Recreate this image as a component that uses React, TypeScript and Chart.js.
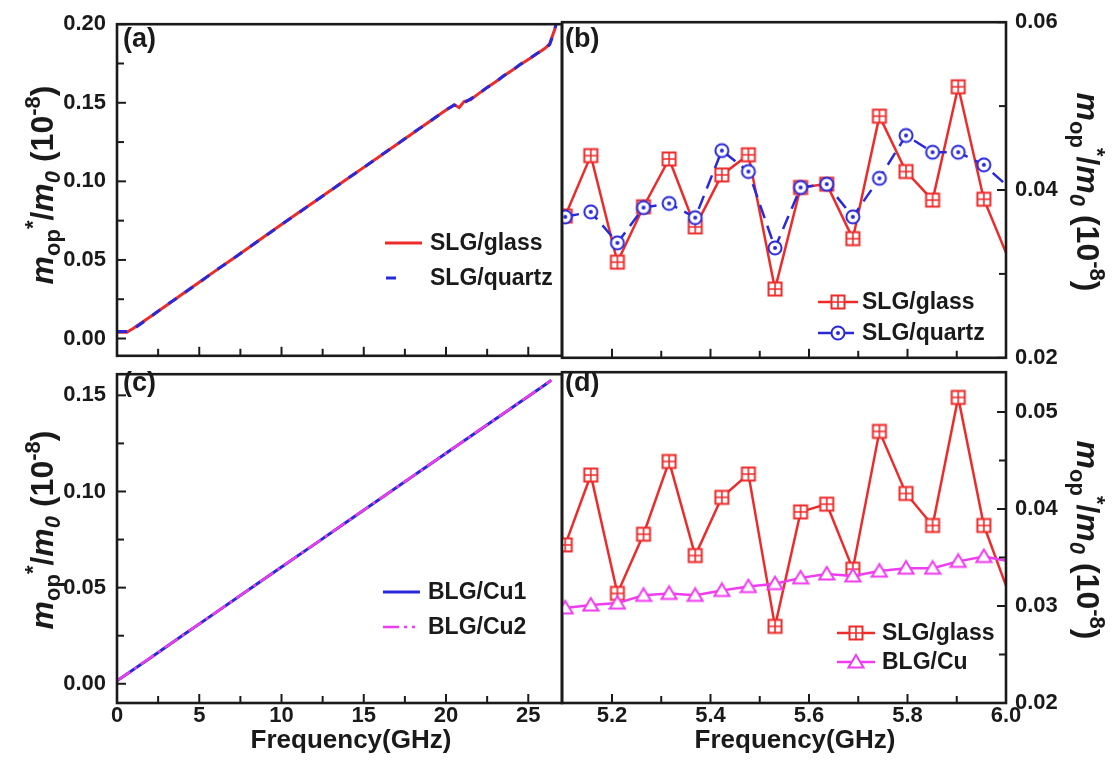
import React, { useEffect, useRef } from "react";
import { Chart, registerables } from "chart.js";
Chart.register(...registerables);

const FONT = "'Liberation Sans', Arial, Helvetica, sans-serif";
const RED = "#ee2b2b";
const BLUE = "#2828dc";
const MAGENTA = "#f03cf0";
const INK = "#1a1a1a";

// ---------- Panel (a): 0-27 GHz, SLG ----------
const freqA = [0, 0.6, 1.0, 2, 3, 4, 5, 6, 7, 8, 9, 10, 11, 12, 13, 14, 15, 16, 17, 18, 19, 20, 20.5, 20.8, 21.1, 21.5, 22, 22.5, 23, 23.5, 24, 24.5, 25, 25.5, 26, 26.3, 26.6, 26.8];
const glassA = [0.004, 0.004, 0.0065, 0.0137, 0.021, 0.0285, 0.0358, 0.0432, 0.0505, 0.0578, 0.0652, 0.0725, 0.0798, 0.087, 0.0943, 0.1016, 0.1089, 0.1162, 0.1235, 0.1308, 0.1381, 0.1454, 0.1488, 0.147, 0.1508, 0.152, 0.156, 0.1597, 0.1632, 0.167, 0.1705, 0.1742, 0.1776, 0.181, 0.1845, 0.1875, 0.1965, 0.205];
const quartzA = [0.0045, 0.0045, 0.006, 0.0135, 0.0212, 0.0283, 0.0357, 0.0433, 0.0503, 0.0579, 0.065, 0.0726, 0.0797, 0.0871, 0.0942, 0.1017, 0.1088, 0.1163, 0.1234, 0.1309, 0.138, 0.1455, 0.1485, 0.148, 0.15, 0.1525, 0.1558, 0.1598, 0.163, 0.1672, 0.1703, 0.1744, 0.1775, 0.1812, 0.1842, 0.187, 0.196, 0.205];

// ---------- Panel (c): 0-27 GHz, BLG ----------
const freqC = [0, 2, 4, 6, 8, 10, 12, 14, 16, 18, 20, 22, 24, 26, 26.4];
const cu1C = [0.0015, 0.0133, 0.0252, 0.037, 0.0489, 0.0607, 0.0725, 0.0844, 0.0962, 0.108, 0.1199, 0.1317, 0.1436, 0.1554, 0.1578];
const cu2C = [0.0015, 0.0134, 0.0252, 0.0371, 0.0489, 0.0608, 0.0726, 0.0844, 0.0963, 0.1081, 0.1199, 0.1318, 0.1436, 0.1555, 0.1578];

// ---------- Panels (b), (d): 5.1-6.0 GHz ----------
const freqHi = [5.105, 5.157, 5.211, 5.264, 5.316, 5.369, 5.423, 5.477, 5.531, 5.583, 5.636, 5.689, 5.743, 5.797, 5.851, 5.903, 5.955, 6.008];
const glassB = [0.0369, 0.0441, 0.0314, 0.038, 0.0437, 0.0356, 0.0418, 0.0442, 0.0282, 0.0403, 0.0407, 0.0342, 0.0488, 0.0422, 0.0388, 0.0523, 0.0389, 0.0314];
const quartzB = [0.0368, 0.0374, 0.0337, 0.0379, 0.0384, 0.0367, 0.0447, 0.0422, 0.0331, 0.0403, 0.0407, 0.0368, 0.0414, 0.0465, 0.0445, 0.0445, 0.043, 0.0402];
const glassD = [0.0363, 0.0435, 0.0313, 0.0374, 0.0449, 0.0352, 0.0412, 0.0436, 0.0279, 0.0397, 0.0405, 0.0338, 0.048, 0.0416, 0.0383, 0.0515, 0.0383, 0.031];
const cuD = [0.0298, 0.0301, 0.0303, 0.0311, 0.0313, 0.0311, 0.0316, 0.032, 0.0323, 0.0329, 0.0333, 0.0331, 0.0336, 0.0339, 0.0339, 0.0346, 0.0351, 0.0346];

// ---------- ticks ----------
const xTicksLow = [0, 5, 10, 15, 20, 25];
const xMinorLow = [2.5, 7.5, 12.5, 17.5, 22.5];
const xTicksHi = [5.2, 5.4, 5.6, 5.8, 6.0];
const xMinorHi = [5.3, 5.5, 5.7, 5.9];
const yTicksA = [0, 0.05, 0.1, 0.15, 0.2];
const yMinorA = [0.025, 0.075, 0.125, 0.175];
const yTicksC = [0, 0.05, 0.1, 0.15];
const yMinorC = [0.025, 0.075, 0.125];
const yTicksB = [0.02, 0.04, 0.06];
const yMinorB = [0.03, 0.05];
const yTicksD = [0.02, 0.03, 0.04, 0.05];
const yMinorD = [0.025, 0.035, 0.045];

type Seg = { t: string; s: number; it?: boolean; dy?: number };
const Y_TITLE: Seg[] = [
  { t: "m", s: 32, it: true },
  { t: "op", s: 22, dy: 7 },
  { t: "*", s: 22, dy: -13 },
  { t: "/", s: 32 },
  { t: "m", s: 32, it: true },
  { t: "0", s: 22, it: true, dy: 7 },
  { t: " (10", s: 32 },
  { t: "-8", s: 22, dy: -13 },
  { t: ")", s: 32 },
];
const X_TITLE = "Frequency(GHz)";

function makeMarker(kind: string, color: string): HTMLCanvasElement {
  const size = 18;
  const c = document.createElement("canvas");
  c.width = size;
  c.height = size;
  const g = c.getContext("2d")!;
  const m = size / 2;
  g.strokeStyle = color;
  g.fillStyle = "#ffffff";
  g.lineWidth = 2;
  if (kind === "square") {
    const h = 6.5;
    g.fillRect(m - h, m - h, 2 * h, 2 * h);
    g.strokeRect(m - h, m - h, 2 * h, 2 * h);
    g.lineWidth = 1.6;
    g.beginPath();
    g.moveTo(m, m - h);
    g.lineTo(m, m + h);
    g.moveTo(m - h, m);
    g.lineTo(m + h, m);
    g.stroke();
  } else if (kind === "circle") {
    g.beginPath();
    g.arc(m, m, 6.5, 0, Math.PI * 2);
    g.fill();
    g.stroke();
    g.fillStyle = color;
    g.beginPath();
    g.arc(m, m, 2, 0, Math.PI * 2);
    g.fill();
  } else {
    g.beginPath();
    g.moveTo(m, m - 7);
    g.lineTo(m + 7.5, m + 5.5);
    g.lineTo(m - 7.5, m + 5.5);
    g.closePath();
    g.fill();
    g.stroke();
  }
  return c;
}

const pts = (xs: number[], ys: number[]) => xs.map((x, i) => ({ x, y: ys[i] }));

type LegendItem = { ds: number; x: number; y: number; len: number; tx: number };
type Panel = {
  ox: number; oy: number; w: number; h: number;
  padL: number; padT: number; padR: number;
  yWidth: number; xHeight: number;
  xMin: number; xMax: number; yMin: number; yMax: number;
  xTicks: number[]; xMinor: number[]; yTicks: number[]; yMinor: number[];
  ySide: "left" | "right"; showX: boolean; xDec: number;
  label: string; labelX: number; labelY: number;
  yTitleX: number; yTitleY: number; yRot: number;
  xTitleX?: number; xTitleY?: number;
  legend: LegendItem[];
  datasets: () => any[];
};

function decor(p: Panel) {
  return {
    id: "decor",
    afterDraw(chart: any) {
      const ctx: CanvasRenderingContext2D = chart.ctx;
      const a = chart.chartArea;
      const xs = chart.scales.x;
      const ys = chart.scales.y;
      ctx.save();
      ctx.strokeStyle = INK;
      ctx.setLineDash([]);
      ctx.lineWidth = 2;
      const xt = (v: number, len: number) => {
        const px = xs.getPixelForValue(v);
        ctx.beginPath();
        ctx.moveTo(px, a.bottom);
        ctx.lineTo(px, a.bottom - len);
        ctx.stroke();
      };
      p.xTicks.forEach((v) => xt(v, 9));
      p.xMinor.forEach((v) => xt(v, 7));
      const left = p.ySide === "left";
      const yt = (v: number, len: number) => {
        const py = ys.getPixelForValue(v);
        const b = left ? a.left : a.right;
        ctx.beginPath();
        ctx.moveTo(b, py);
        ctx.lineTo(b + (left ? len : -len), py);
        ctx.stroke();
      };
      p.yTicks.forEach((v) => yt(v, 9));
      p.yMinor.forEach((v) => yt(v, 7));
      ctx.lineWidth = 2.6;
      ctx.strokeRect(a.left, a.top, a.right - a.left, a.bottom - a.top);

      // legend
      p.legend.forEach((it) => {
        const ds = chart.data.datasets[it.ds];
        const x0 = it.x - p.ox;
        const y0 = it.y - p.oy;
        ctx.save();
        ctx.strokeStyle = ds.borderColor;
        ctx.lineWidth = ds.borderWidth;
        ctx.setLineDash(ds.borderDash || []);
        ctx.beginPath();
        ctx.moveTo(x0, y0);
        ctx.lineTo(x0 + it.len, y0);
        ctx.stroke();
        ctx.restore();
        const ps = ds.pointStyle;
        if (ps && typeof ps !== "string" && ps.width) {
          ctx.drawImage(ps, x0 + it.len / 2 - ps.width / 2, y0 - ps.height / 2);
        }
        ctx.fillStyle = INK;
        ctx.font = `bold 23px ${FONT}`;
        ctx.textAlign = "left";
        ctx.textBaseline = "middle";
        ctx.fillText(ds.label, it.tx - p.ox, y0 + 1);
      });

      // panel label
      ctx.fillStyle = INK;
      ctx.font = `bold 27px ${FONT}`;
      ctx.textAlign = "left";
      ctx.textBaseline = "middle";
      ctx.fillText(p.label, p.labelX - p.ox, p.labelY - p.oy);

      // x title
      if (p.xTitleX !== undefined) {
        ctx.font = `bold 26px ${FONT}`;
        ctx.textAlign = "center";
        ctx.fillText(X_TITLE, p.xTitleX - p.ox, (p.xTitleY as number) - p.oy);
      }

      // y title (rich)
      ctx.save();
      ctx.translate(p.yTitleX - p.ox, p.yTitleY - p.oy);
      ctx.rotate(p.yRot);
      ctx.textAlign = "left";
      ctx.textBaseline = "alphabetic";
      const fontOf = (s: Seg) => `${s.it ? "italic " : ""}bold ${s.s}px ${FONT}`;
      let total = 0;
      const widths = Y_TITLE.map((s) => {
        ctx.font = fontOf(s);
        const w = ctx.measureText(s.t).width;
        total += w;
        return w;
      });
      let cx = -total / 2;
      Y_TITLE.forEach((s, i) => {
        ctx.font = fontOf(s);
        ctx.fillText(s.t, cx, 11 + (s.dy || 0));
        cx += widths[i];
      });
      ctx.restore();
      ctx.restore();
    },
  };
}

function buildConfig(p: Panel): any {
  return {
    type: "line",
    data: { datasets: p.datasets() },
    options: {
      animation: false,
      responsive: false,
      maintainAspectRatio: false,
      events: [],
      layout: { padding: { left: p.padL, top: p.padT, right: p.padR, bottom: 0 } },
      plugins: { legend: { display: false }, tooltip: { enabled: false }, title: { display: false } },
      scales: {
        x: {
          type: "linear",
          position: "bottom",
          min: p.xMin,
          max: p.xMax,
          grid: { display: false, drawTicks: false, tickLength: 0 },
          border: { display: false },
          ticks: {
            display: p.showX,
            padding: 0,
            autoSkip: false,
            maxRotation: 0,
            color: INK,
            font: { family: FONT, size: 22, weight: "bold" },
            callback: (v: any) => Number(v).toFixed(p.xDec),
          },
          afterBuildTicks: (s: any) => {
            s.ticks = p.xTicks.map((v) => ({ value: v }));
          },
          afterFit: (s: any) => {
            s.height = p.xHeight;
          },
        },
        y: {
          type: "linear",
          position: p.ySide,
          min: p.yMin,
          max: p.yMax,
          grid: { display: false, drawTicks: false, tickLength: 0 },
          border: { display: false },
          ticks: {
            padding: p.ySide === "left" ? 11 : 9,
            autoSkip: false,
            color: INK,
            font: { family: FONT, size: 22, weight: "bold" },
            callback: (v: any) => Number(v).toFixed(2),
          },
          afterBuildTicks: (s: any) => {
            s.ticks = p.yTicks.map((v) => ({ value: v }));
          },
          afterFit: (s: any) => {
            s.width = p.yWidth;
          },
        },
      },
    },
    plugins: [decor(p)],
  };
}

const lineDs = (label: string, xs: number[], ys: number[], color: string, width: number, dash: number[], order: number, xMax: number, marker?: HTMLCanvasElement) => ({
  label,
  data: pts(xs, ys),
  borderColor: color,
  backgroundColor: color,
  borderWidth: width,
  borderDash: dash,
  tension: 0,
  fill: false,
  order,
  pointStyle: marker || "circle",
  pointRadius: xs.map((x) => (marker && x <= xMax ? 6 : 0)),
  pointHoverRadius: 0,
});

const PANELS: Panel[] = [
  {
    ox: 0, oy: 0, w: 575, h: 380, padL: 0, padT: 17, padR: 13, yWidth: 117, xHeight: 19,
    xMin: 0, xMax: 27.05, yMin: -0.011, yMax: 0.2,
    xTicks: xTicksLow, xMinor: xMinorLow, yTicks: yTicksA, yMinor: yMinorA,
    ySide: "left", showX: false, xDec: 0,
    label: "(a)", labelX: 123, labelY: 40,
    yTitleX: 42, yTitleY: 185, yRot: -Math.PI / 2,
    legend: [
      { ds: 0, x: 385, y: 243, len: 37, tx: 430 },
      { ds: 1, x: 386, y: 278, len: 12, tx: 430 },
    ],
    datasets: () => [
      lineDs("SLG/glass", freqA, glassA, RED, 3, [], 1, 27.05),
      lineDs("SLG/quartz", freqA, quartzA, BLUE, 3, [10, 10], 0, 27.05),
    ],
  },
  {
    ox: 550, oy: 0, w: 562, h: 380, padL: 12, padT: 17, padR: 0, yWidth: 106, xHeight: 19,
    xMin: 5.0985, xMax: 6.0, yMin: 0.02, yMax: 0.06,
    xTicks: xTicksHi, xMinor: xMinorHi, yTicks: yTicksB, yMinor: yMinorB,
    ySide: "right", showX: false, xDec: 1,
    label: "(b)", labelX: 565, labelY: 40,
    yTitleX: 1088, yTitleY: 192, yRot: Math.PI / 2,
    legend: [
      { ds: 0, x: 818, y: 302, len: 40, tx: 862 },
      { ds: 1, x: 818, y: 333, len: 40, tx: 862 },
    ],
    datasets: () => [
      lineDs("SLG/glass", freqHi, glassB, RED, 2.5, [], 1, 6.0, makeMarker("square", RED)),
      lineDs("SLG/quartz", freqHi, quartzB, BLUE, 2.5, [14, 8], 0, 6.0, makeMarker("circle", BLUE)),
    ],
  },
  {
    ox: 0, oy: 350, w: 575, h: 417, padL: 0, padT: 11, padR: 13, yWidth: 117, xHeight: 64,
    xMin: 0, xMax: 27.05, yMin: -0.01, yMax: 0.161,
    xTicks: xTicksLow, xMinor: xMinorLow, yTicks: yTicksC, yMinor: yMinorC,
    ySide: "left", showX: true, xDec: 0,
    label: "(c)", labelX: 123, labelY: 384,
    yTitleX: 42, yTitleY: 530, yRot: -Math.PI / 2,
    xTitleX: 351, xTitleY: 741,
    legend: [
      { ds: 0, x: 383, y: 592, len: 37, tx: 428 },
      { ds: 1, x: 383, y: 627, len: 32, tx: 428 },
    ],
    datasets: () => [
      lineDs("BLG/Cu1", freqC, cu1C, BLUE, 3, [], 1, 27.05),
      lineDs("BLG/Cu2", freqC, cu2C, MAGENTA, 2.5, [16, 5, 3, 5], 0, 27.05),
    ],
  },
  {
    ox: 550, oy: 350, w: 562, h: 417, padL: 12, padT: 11, padR: 0, yWidth: 106, xHeight: 64,
    xMin: 5.0985, xMax: 6.0, yMin: 0.02, yMax: 0.0541,
    xTicks: xTicksHi, xMinor: xMinorHi, yTicks: yTicksD, yMinor: yMinorD,
    ySide: "right", showX: true, xDec: 1,
    label: "(d)", labelX: 565, labelY: 384,
    yTitleX: 1088, yTitleY: 540, yRot: Math.PI / 2,
    xTitleX: 795, xTitleY: 741,
    legend: [
      { ds: 0, x: 837, y: 633, len: 38, tx: 882 },
      { ds: 1, x: 837, y: 662, len: 38, tx: 882 },
    ],
    datasets: () => [
      lineDs("SLG/glass", freqHi, glassD, RED, 2.5, [], 1, 6.0, makeMarker("square", RED)),
      lineDs("BLG/Cu", freqHi, cuD, MAGENTA, 2.5, [], 0, 6.0, makeMarker("triangle", MAGENTA)),
    ],
  },
];

export default function App() {
  const r0 = useRef<HTMLCanvasElement>(null);
  const r1 = useRef<HTMLCanvasElement>(null);
  const r2 = useRef<HTMLCanvasElement>(null);
  const r3 = useRef<HTMLCanvasElement>(null);
  const refs = [r0, r1, r2, r3];

  useEffect(() => {
    document.body.style.margin = "0";
    const charts = PANELS.map((p, i) => new Chart(refs[i].current as HTMLCanvasElement, buildConfig(p)));
    return () => charts.forEach((c) => c.destroy());
  }, []);

  return (
    <div style={{ position: "relative", width: 1112, height: 767, background: "#ffffff", overflow: "hidden" }}>
      {PANELS.map((p, i) => (
        <canvas
          key={i}
          ref={refs[i]}
          width={p.w}
          height={p.h}
          style={{ position: "absolute", left: p.ox, top: p.oy, width: p.w, height: p.h }}
        />
      ))}
    </div>
  );
}
